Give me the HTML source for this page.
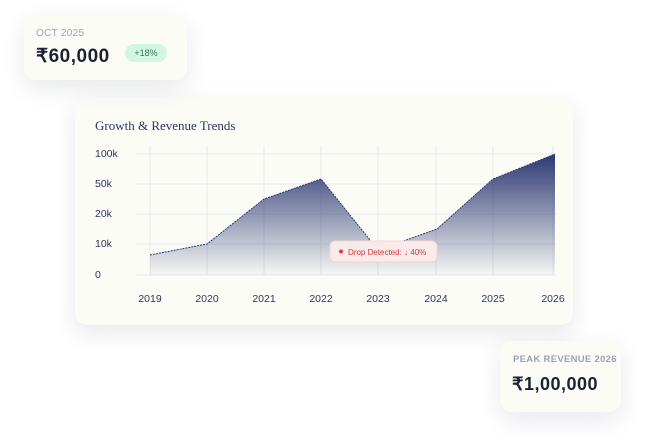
<!DOCTYPE html>
<html><head><meta charset="utf-8"><style>
body{margin:0;width:646px;height:445px;background:#fff;position:relative;overflow:hidden;font-family:"Liberation Sans",sans-serif;}
.card{position:absolute;background:#fcfcf7;border-radius:12px;box-shadow:0 8px 24px rgba(20,30,60,0.10);}
.lbl{font-size:10px;color:#9aa3b5;letter-spacing:0.3px;}
.big{font-size:19px;font-weight:bold;color:#1c2233;letter-spacing:0.5px;}
</style></head><body>
<div class="card" style="left:75px;top:98px;width:498px;height:227px;"></div>
<div class="card" style="left:24px;top:15px;width:163px;height:65px;">
 <div class="lbl" style="position:absolute;left:12px;top:13px;">OCT 2025</div>
 <div class="big" style="position:absolute;left:12px;top:30px;">₹60,000</div>
 <div style="position:absolute;left:101px;top:29px;width:42px;height:18px;border-radius:9px;background:#d3f5e3;color:#2f7a52;font-size:9px;line-height:18px;text-align:center;">+18%</div>
</div>
<div class="card" style="left:500px;top:341px;width:121px;height:71px;">
 <div class="lbl" style="position:absolute;left:13px;top:13px;font-size:9.5px;font-weight:bold;">PEAK REVENUE 2026</div>
 <div class="big" style="position:absolute;left:12px;top:33px;font-size:18px;">₹1,00,000</div>
</div>
<svg style="position:absolute;left:0;top:0" width="646" height="445">
<defs><linearGradient id="g" x1="0" y1="154" x2="0" y2="275" gradientUnits="userSpaceOnUse">
<stop offset="0" stop-color="#2c3873"/><stop offset="1" stop-color="#2c3873" stop-opacity="0.03"/></linearGradient></defs>
<text x="95" y="130" font-family="Liberation Serif,serif" font-size="13" fill="#2c3660">Growth &amp; Revenue Trends</text>
<g stroke="#e6e7ee" stroke-width="1">
<line x1="136" y1="154" x2="556" y2="154"/><line x1="136" y1="184" x2="556" y2="184"/><line x1="136" y1="214" x2="556" y2="214"/><line x1="136" y1="244" x2="556" y2="244"/><line x1="136" y1="275" x2="556" y2="275"/>
<line x1="150" y1="146" x2="150" y2="275"/><line x1="207" y1="146" x2="207" y2="275"/><line x1="264" y1="146" x2="264" y2="275"/><line x1="321" y1="146" x2="321" y2="275"/><line x1="378" y1="146" x2="378" y2="275"/><line x1="436" y1="146" x2="436" y2="275"/><line x1="493" y1="146" x2="493" y2="275"/><line x1="553" y1="146" x2="553" y2="275"/>
</g>
<path d="M150,255 L207,244 L264,199 L321,179 L378,250 L437,229 L493,179 L555,154 L555,275 L150,275 Z" fill="url(#g)"/>
<path d="M150,255 L207,244 L264,199 L321,179 L378,250 L437,229 L493,179 L555,154" fill="none" stroke="#2c3873" stroke-width="1" stroke-dasharray="2,1"/>
<g font-size="10.5" fill="#2c3660">
<text x="95" y="157">100k</text><text x="95" y="187">50k</text><text x="95" y="217">20k</text><text x="95" y="247">10k</text><text x="95" y="278">0</text>
<g text-anchor="middle"><text x="150" y="302">2019</text><text x="207" y="302">2020</text><text x="264" y="302">2021</text><text x="321" y="302">2022</text><text x="378" y="302">2023</text><text x="436" y="302">2024</text><text x="493" y="302">2025</text><text x="553" y="302">2026</text></g>
</g>
<rect x="330" y="241" width="107" height="21" rx="5" fill="#fbeaea" stroke="#f4d4d4"/>
<circle cx="341" cy="251.5" r="2" fill="#e03c3c"/>
<text x="348" y="255" font-size="8" fill="#d13a3a">Drop Detected: ↓ 40%</text>
</svg>
</body></html>
